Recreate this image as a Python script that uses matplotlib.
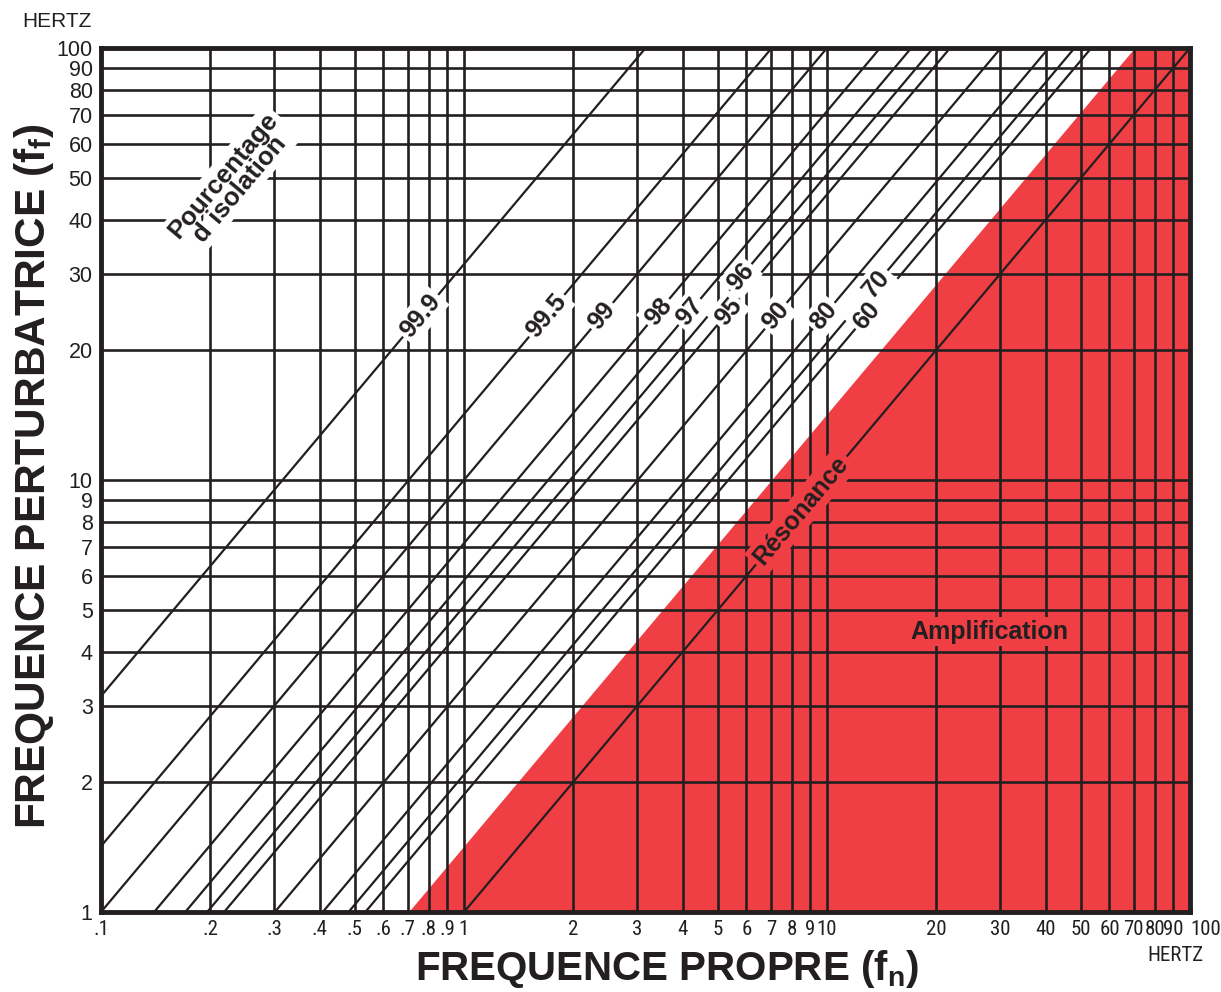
import numpy as np
import matplotlib.pyplot as plt
from matplotlib import font_manager
from matplotlib.font_manager import FontProperties

plt.rcParams['font.family'] = ['Liberation Sans', 'DejaVu Sans']
plt.rcParams['mathtext.fontset'] = 'custom'
plt.rcParams['mathtext.bf'] = 'Liberation Sans:bold'
plt.rcParams['mathtext.rm'] = 'Liberation Sans'

isolation = ["99.9", "99.5", "99", "98", "97", "96", "95", "90", "80", "70", "60"]
ratio = [31.6, 14.2, 10.0, 7.14, 5.86, 5.10, 4.58, 3.32, 2.45, 2.08, 1.87]
label_ff = [24, 24, 24, 24.5, 24.5, 29.5, 24.5, 24, 24, 28.5, 24]

resonance_ratio = 1.0
amplification_ratio = 1.414

x_ticks = [0.1, 0.2, 0.3, 0.4, 0.5, 0.6, 0.7, 0.8, 0.9,
           1, 2, 3, 4, 5, 6, 7, 8, 9,
           10, 20, 30, 40, 50, 60, 70, 80, 90, 100]
x_labels = [".1", ".2", ".3", ".4", ".5", ".6", ".7", ".8", ".9",
            "1", "2", "3", "4", "5", "6", "7", "8", "9",
            "10", "20", "30", "40", "50", "60", "70", "80", "90", "100"]
y_ticks = [1, 2, 3, 4, 5, 6, 7, 8, 9, 10, 20, 30, 40, 50, 60, 70, 80, 90, 100]
y_labels = [str(v) for v in y_ticks]

ink = "#231f20"
red = "#ef3e44"


# police étroite pour l'axe des x si disponible
def find_narrow():
    pref = ["Liberation Sans Narrow", "Roboto Condensed", "Open Sans Condensed",
            "Noto Sans", "DejaVu Sans", "Roboto", "Open Sans"]
    cands = []
    for f in font_manager.fontManager.ttflist:
        narrowish = (str(f.stretch) in ("condensed", "semi-condensed", "extra-condensed")
                     or "Narrow" in f.name or "Condensed" in f.name
                     or "Condensed" in f.fname or "Narrow" in f.fname)
        if narrowish and f.weight in (400, "normal", "regular") and f.style == "normal":
            rank = pref.index(f.name) if f.name in pref else len(pref)
            cands.append((rank, f.fname))
    if cands:
        cands.sort()
        return FontProperties(fname=cands[0][1], size=15), True
    return FontProperties(family="Liberation Sans", size=12.5), False


xfont, is_narrow = find_narrow()

fig = plt.figure(figsize=(12.21, 9.92), dpi=100)
ax = fig.add_axes([0.0827, 0.0806, 0.8919, 0.871])
ax.set_xscale("log")
ax.set_yscale("log")
ax.set_xlim(0.1, 100)
ax.set_ylim(1, 100)

span = np.array([0.001, 1000.0])

# zone d'amplification
ax.fill_between(span, amplification_ratio * span, 1e-3, color=red, lw=0, zorder=0)

# quadrillage
for v in x_ticks[1:-1]:
    ax.axvline(v, color=ink, lw=1.9, zorder=1)
for v in y_ticks[1:-1]:
    ax.axhline(v, color=ink, lw=1.9, zorder=1)

# droites d'isolation
for r in ratio:
    ax.plot(span, r * span, color=ink, lw=1.6, zorder=2)
ax.plot(span, resonance_ratio * span, color=ink, lw=1.6, zorder=2)

p0 = ax.transData.transform((1, 1))
p1 = ax.transData.transform((10, 10))
angle = np.degrees(np.arctan2(p1[1] - p0[1], p1[0] - p0[0]))

for lab, r, ff in zip(isolation, ratio, label_ff):
    ax.text(ff / r, ff, lab, rotation=angle, ha="center", va="center",
            fontsize=18, fontweight="bold", color=ink, zorder=3,
            rotation_mode="anchor",
            bbox=dict(boxstyle="square,pad=0.12", fc="white", ec="none"))

ax.text(0.229, 49, "Pourcentage\nd\u00b4isolation", rotation=angle,
        ha="center", va="center", fontsize=18.5, fontweight="bold", color=ink,
        linespacing=0.85, zorder=3, rotation_mode="anchor",
        bbox=dict(boxstyle="square,pad=0.12", fc="white", ec="none"))

ax.text(8.5, 8.5, "R\u00e9sonance", rotation=angle, ha="center", va="center",
        fontsize=18, fontweight="bold", color=ink, zorder=3, rotation_mode="anchor",
        bbox=dict(boxstyle="square,pad=0.15", fc=red, ec="none"))

ax.text(28, 4.45, "Amplification", ha="center", va="center",
        fontsize=18, fontweight="bold", color=ink, zorder=3,
        bbox=dict(boxstyle="square,pad=0.1", fc=red, ec="none"))

# axes
ax.set_xticks(x_ticks)
ax.set_xticklabels(x_labels, fontproperties=xfont)
ax.set_yticks(y_ticks)
ax.set_yticklabels(y_labels, fontsize=15.5)
ax.minorticks_off()
ax.tick_params(length=0, pad=6, colors=ink)
# "100" décalé vers la droite comme sur l'abaque
last = ax.get_xticklabels()[-1]
last.set_horizontalalignment("left")
last.set_x(97.4)

for s in ax.spines.values():
    s.set_linewidth(3.5)
    s.set_color(ink)
    s.set_zorder(5)

fig.text(0.047, 0.978, "HERTZ", ha="center", va="center", fontsize=15, color=ink)
fig.text(0.963, 0.037, "HERTZ", ha="center", va="center", fontproperties=xfont,
         color=ink)

fig.text(0.546, 0.023, r"FREQUENCE PROPRE (f$_\mathbf{n}$)", ha="center", va="center",
         fontsize=29, fontweight="bold", color=ink)
fig.text(0.028, 0.52, r"FREQUENCE PERTURBATRICE (f$_\mathbf{f}$)", ha="center",
         va="center", rotation=90, fontsize=30.5, fontweight="bold", color=ink)

fig.savefig("out.png", dpi=100)
